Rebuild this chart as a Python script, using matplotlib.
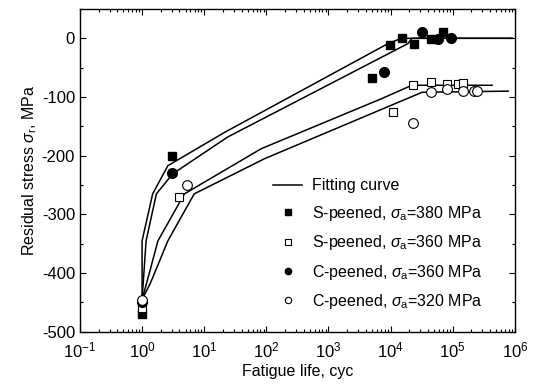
import numpy as np
import matplotlib
matplotlib.use('Agg')
import matplotlib.pyplot as plt
from matplotlib.ticker import LogLocator, MultipleLocator, NullFormatter

plt.rcParams['font.family'] = ['Liberation Sans', 'DejaVu Sans']
plt.rcParams['mathtext.fontset'] = 'custom'
plt.rcParams['mathtext.rm'] = 'Liberation Sans'
plt.rcParams['mathtext.it'] = 'Liberation Sans:italic'
plt.rcParams['axes.unicode_minus'] = False

# measured points: fatigue life (cyc) and residual stress (MPa)
s380_n = [1, 3, 5.1e3, 9.6e3, 1.55e4, 2.4e4, 4.4e4, 7e4]
s380_s = [-470, -200, -67, -12, 0, -10, -2, 10]
s360_n = [1, 4, 1.1e4, 2.3e4, 4.4e4, 8.2e4, 1.2e5, 1.45e5]
s360_s = [-460, -271, -126, -80, -75, -77, -78, -76]
c360_n = [1, 3, 7.8e3, 3.2e4, 5.8e4, 9.3e4]
c360_s = [-450, -230, -57, 10, -2, 0]
c320_n = [1, 5.3, 2.3e4, 4.4e4, 8e4, 1.45e5, 2.2e5, 2.5e5]
c320_s = [-445, -250, -145, -92, -87, -89, -90, -90]

# fitting curves
fit_a_n = [1, 1.0, 1.48, 2.6, 21.5, 9.1e3, 1.5e4, 9e5]
fit_a_s = [-445, -345, -265, -217, -160, -9, 0, 0]
fit_b_n = [1, 1.16, 1.7, 3.1, 24, 1.9e4, 2.2e4, 9e5]
fit_b_s = [-445, -345, -265, -231, -168, -9, 0, 0]
fit_c_n = [1, 1.3, 1.8, 4.8, 83, 7.1e3, 2.2e4, 4.3e5]
fit_c_s = [-445, -401, -345, -265, -188, -103, -80, -80]
fit_d_n = [1, 1.35, 2.6, 6.9, 94, 3.2e4, 7.8e5]
fit_d_s = [-445, -418, -345, -265, -205, -92, -90]

fig = plt.figure(figsize=(5.33, 3.89), dpi=100)
ax = fig.add_axes([0.150, 0.147, 0.816, 0.830])

for fn, fs in [(fit_a_n, fit_a_s), (fit_b_n, fit_b_s), (fit_c_n, fit_c_s), (fit_d_n, fit_d_s)]:
    ax.plot(fn, fs, 'k-', lw=1.1)
ax.plot([], [], 'k-', lw=1.1, label='Fitting curve')

ax.plot(s380_n, s380_s, 's', ms=6, mfc='k', mec='k', ls='none',
        label=r'S-peened, $\sigma_{\rm a}$=380 MPa')
ax.plot(s360_n, s360_s, 's', ms=6, mfc='white', mec='k', mew=0.8, ls='none',
        label=r'S-peened, $\sigma_{\rm a}$=360 MPa')
ax.plot(c360_n, c360_s, 'o', ms=7, mfc='k', mec='k', ls='none',
        label=r'C-peened, $\sigma_{\rm a}$=360 MPa')
ax.plot(c320_n, c320_s, 'o', ms=7, mfc='white', mec='k', mew=0.8, ls='none',
        label=r'C-peened, $\sigma_{\rm a}$=320 MPa')

ax.set_xscale('log')
ax.set_xlim(1e-1, 1e6)
ax.set_ylim(-500, 50)
ax.xaxis.set_major_locator(LogLocator(base=10, numticks=10))
ax.xaxis.set_minor_locator(LogLocator(base=10, subs=np.arange(2, 10), numticks=20))
ax.xaxis.set_minor_formatter(NullFormatter())
ax.yaxis.set_major_locator(MultipleLocator(100))
ax.yaxis.set_minor_locator(MultipleLocator(50))
ax.tick_params(which='both', direction='in', top=True, right=True, labelsize=12)
ax.tick_params(which='major', length=4, width=0.8)
ax.tick_params(which='minor', length=2.5, width=0.8)
ax.tick_params(axis='x', pad=6)
for sp in ax.spines.values():
    sp.set_linewidth(1.0)

ax.set_xlabel('Fatigue life, cyc', fontsize=11.5, labelpad=3)
ax.set_ylabel(r'Residual stress $\sigma_{\rm r}$, MPa', fontsize=11.5, labelpad=2)

ax.legend(loc='upper left', bbox_to_anchor=(0.43, 0.495), frameon=False,
          fontsize=11.5, markerscale=0.65, handlelength=1.8, handletextpad=0.6,
          labelspacing=0.65, borderaxespad=0)

fig.savefig('out.png', dpi=100)
